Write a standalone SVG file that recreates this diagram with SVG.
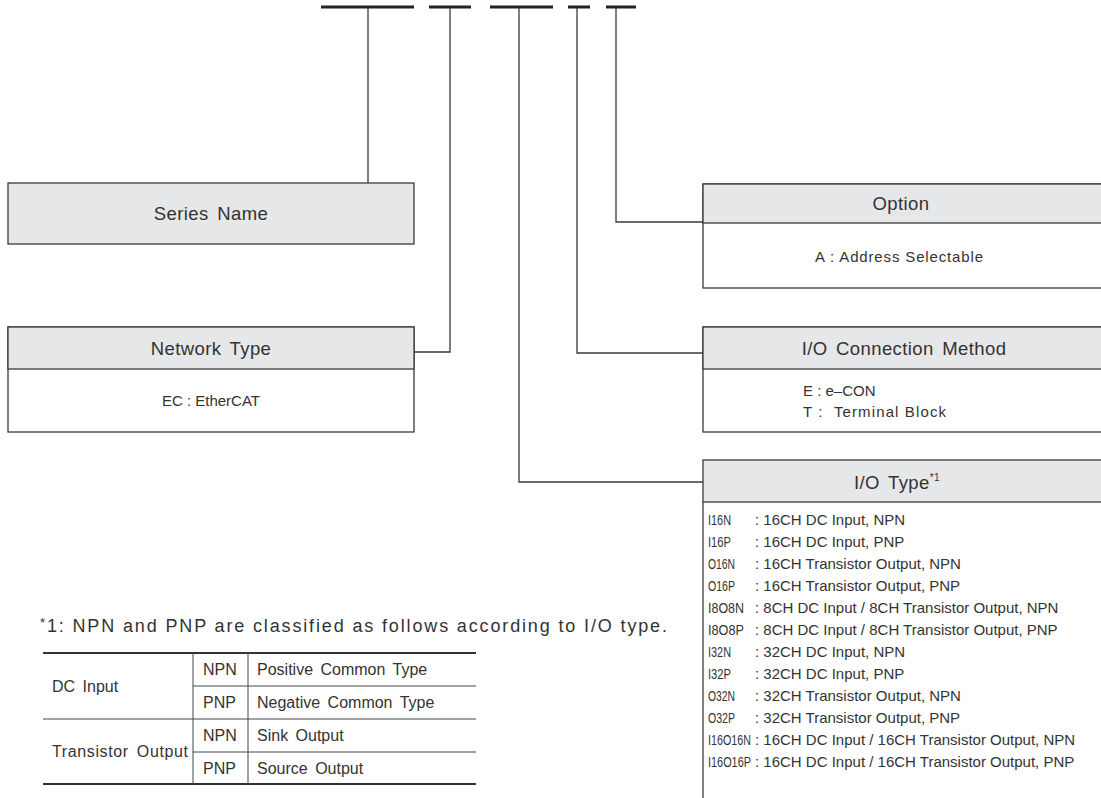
<svg xmlns="http://www.w3.org/2000/svg" width="1101" height="798" viewBox="0 0 1101 798">
<style>
text{font-family:"Liberation Sans",Arial,sans-serif;fill:#333}
.hdr{fill:#e6e7e8;stroke:#3a3a3a;stroke-width:1.3}
.box{fill:#fff;stroke:#3a3a3a;stroke-width:1.3}
.ht{font-size:18.5px;text-anchor:middle;letter-spacing:0.4px;word-spacing:3px}
.bt{font-size:15px}
.cn{fill:none;stroke:#3a3a3a;stroke-width:1.3}
.bar{stroke:#222;stroke-width:3}
.io{font-size:15px}
.tb{font-size:16px;word-spacing:3px}
.tl{stroke:#444;stroke-width:1}
.tk{stroke:#333;stroke-width:2}
</style>
<rect width="1101" height="798" fill="#fff"/>
<g id="code-bars">
<line class="bar" x1="321" y1="7" x2="414" y2="7"/>
<line class="bar" x1="429" y1="7" x2="471" y2="7"/>
<line class="bar" x1="490" y1="7" x2="553" y2="7"/>
<line class="bar" x1="568" y1="7" x2="590" y2="7"/>
<line class="bar" x1="606" y1="7" x2="636" y2="7"/>
</g>
<g id="connectors">
<polyline class="cn" points="368,8 368,183"/>
<polyline class="cn" points="450,8 450,352 414,352"/>
<polyline class="cn" points="519,8 519,482 703,482"/>
<polyline class="cn" points="577,8 577,353 703,353"/>
<polyline class="cn" points="616,8 616,222 703,222"/>
</g>
<g id="series-name">
<rect class="hdr" x="8" y="183" width="406" height="61"/>
<text class="ht" x="211" y="220">Series Name</text>
</g>
<g id="network-type">
<rect class="box" x="8" y="327" width="406" height="105"/>
<rect class="hdr" x="8" y="327" width="406" height="42"/>
<text class="ht" x="211" y="355">Network Type</text>
<text class="bt" x="211" y="406" text-anchor="middle" textLength="98" lengthAdjust="spacing">EC : EtherCAT</text>
</g>
<g id="option">
<rect class="box" x="703" y="184" width="400" height="104"/>
<rect class="hdr" x="703" y="184" width="400" height="39"/>
<text class="ht" x="901" y="210">Option</text>
<text class="bt" x="899" y="262" text-anchor="middle" textLength="168" lengthAdjust="spacing">A : Address Selectable</text>
</g>
<g id="io-connection">
<rect class="box" x="703" y="327" width="400" height="105"/>
<rect class="hdr" x="703" y="327" width="400" height="42"/>
<text class="ht" x="904" y="355">I/O Connection Method</text>
<text class="bt" x="803" y="396">E : e–CON</text>
<text class="bt" x="803" y="417" textLength="143" lengthAdjust="spacing" xml:space="preserve">T :  Terminal Block</text>
</g>
<g id="io-type">
<rect class="hdr" x="703" y="460" width="400" height="42"/>
<line class="cn" x1="703" y1="502" x2="703" y2="798"/>
<text class="ht" x="897" y="489">I/O Type<tspan font-size="10" dy="-8">*1</tspan></text>
<g class="io">
<text x="708" y="525"><tspan textLength="23" lengthAdjust="spacingAndGlyphs">I16N</tspan><tspan x="755">: 16CH DC Input, NPN</tspan></text>
<text x="708" y="547"><tspan textLength="23" lengthAdjust="spacingAndGlyphs">I16P</tspan><tspan x="755">: 16CH DC Input, PNP</tspan></text>
<text x="708" y="569"><tspan textLength="27" lengthAdjust="spacingAndGlyphs">O16N</tspan><tspan x="755">: 16CH Transistor Output, NPN</tspan></text>
<text x="708" y="591"><tspan textLength="27" lengthAdjust="spacingAndGlyphs">O16P</tspan><tspan x="755">: 16CH Transistor Output, PNP</tspan></text>
<text x="708" y="613"><tspan textLength="36" lengthAdjust="spacingAndGlyphs">I8O8N</tspan><tspan x="755">: 8CH DC Input / 8CH Transistor Output, NPN</tspan></text>
<text x="708" y="635"><tspan textLength="36" lengthAdjust="spacingAndGlyphs">I8O8P</tspan><tspan x="755">: 8CH DC Input / 8CH Transistor Output, PNP</tspan></text>
<text x="708" y="657"><tspan textLength="23" lengthAdjust="spacingAndGlyphs">I32N</tspan><tspan x="755">: 32CH DC Input, NPN</tspan></text>
<text x="708" y="679"><tspan textLength="23" lengthAdjust="spacingAndGlyphs">I32P</tspan><tspan x="755">: 32CH DC Input, PNP</tspan></text>
<text x="708" y="701"><tspan textLength="27" lengthAdjust="spacingAndGlyphs">O32N</tspan><tspan x="755">: 32CH Transistor Output, NPN</tspan></text>
<text x="708" y="723"><tspan textLength="27" lengthAdjust="spacingAndGlyphs">O32P</tspan><tspan x="755">: 32CH Transistor Output, PNP</tspan></text>
<text x="708" y="745"><tspan textLength="43" lengthAdjust="spacingAndGlyphs">I16O16N</tspan><tspan x="755">: 16CH DC Input / 16CH Transistor Output, NPN</tspan></text>
<text x="708" y="767"><tspan textLength="43" lengthAdjust="spacingAndGlyphs">I16O16P</tspan><tspan x="755">: 16CH DC Input / 16CH Transistor Output, PNP</tspan></text>
</g>
</g>
<g id="footnote">
<text x="40" y="632" font-size="18" textLength="627" lengthAdjust="spacing"><tspan font-size="13" dy="-5">*</tspan><tspan dy="5">1: NPN and PNP are classified as follows according to I/O type.</tspan></text>
</g>
<g id="type-table">
<line class="tk" x1="43" y1="653" x2="476" y2="653"/>
<line class="tk" x1="43" y1="784" x2="476" y2="784"/>
<line class="tl" x1="43" y1="719" x2="476" y2="719"/>
<line class="tl" x1="193" y1="686" x2="476" y2="686"/>
<line class="tl" x1="193" y1="752" x2="476" y2="752"/>
<line class="tl" x1="193" y1="653" x2="193" y2="784"/>
<line class="tl" x1="248" y1="653" x2="248" y2="784"/>
<text class="tb" x="52" y="692">DC Input</text>
<text class="tb" x="52" y="757" textLength="136" lengthAdjust="spacing">Transistor Output</text>
<text class="tb" x="203" y="675">NPN</text>
<text class="tb" x="203" y="708">PNP</text>
<text class="tb" x="203" y="741">NPN</text>
<text class="tb" x="203" y="774">PNP</text>
<text class="tb" x="257" y="675">Positive Common Type</text>
<text class="tb" x="257" y="708">Negative Common Type</text>
<text class="tb" x="257" y="741">Sink Output</text>
<text class="tb" x="257" y="774">Source Output</text>
</g>
</svg>
